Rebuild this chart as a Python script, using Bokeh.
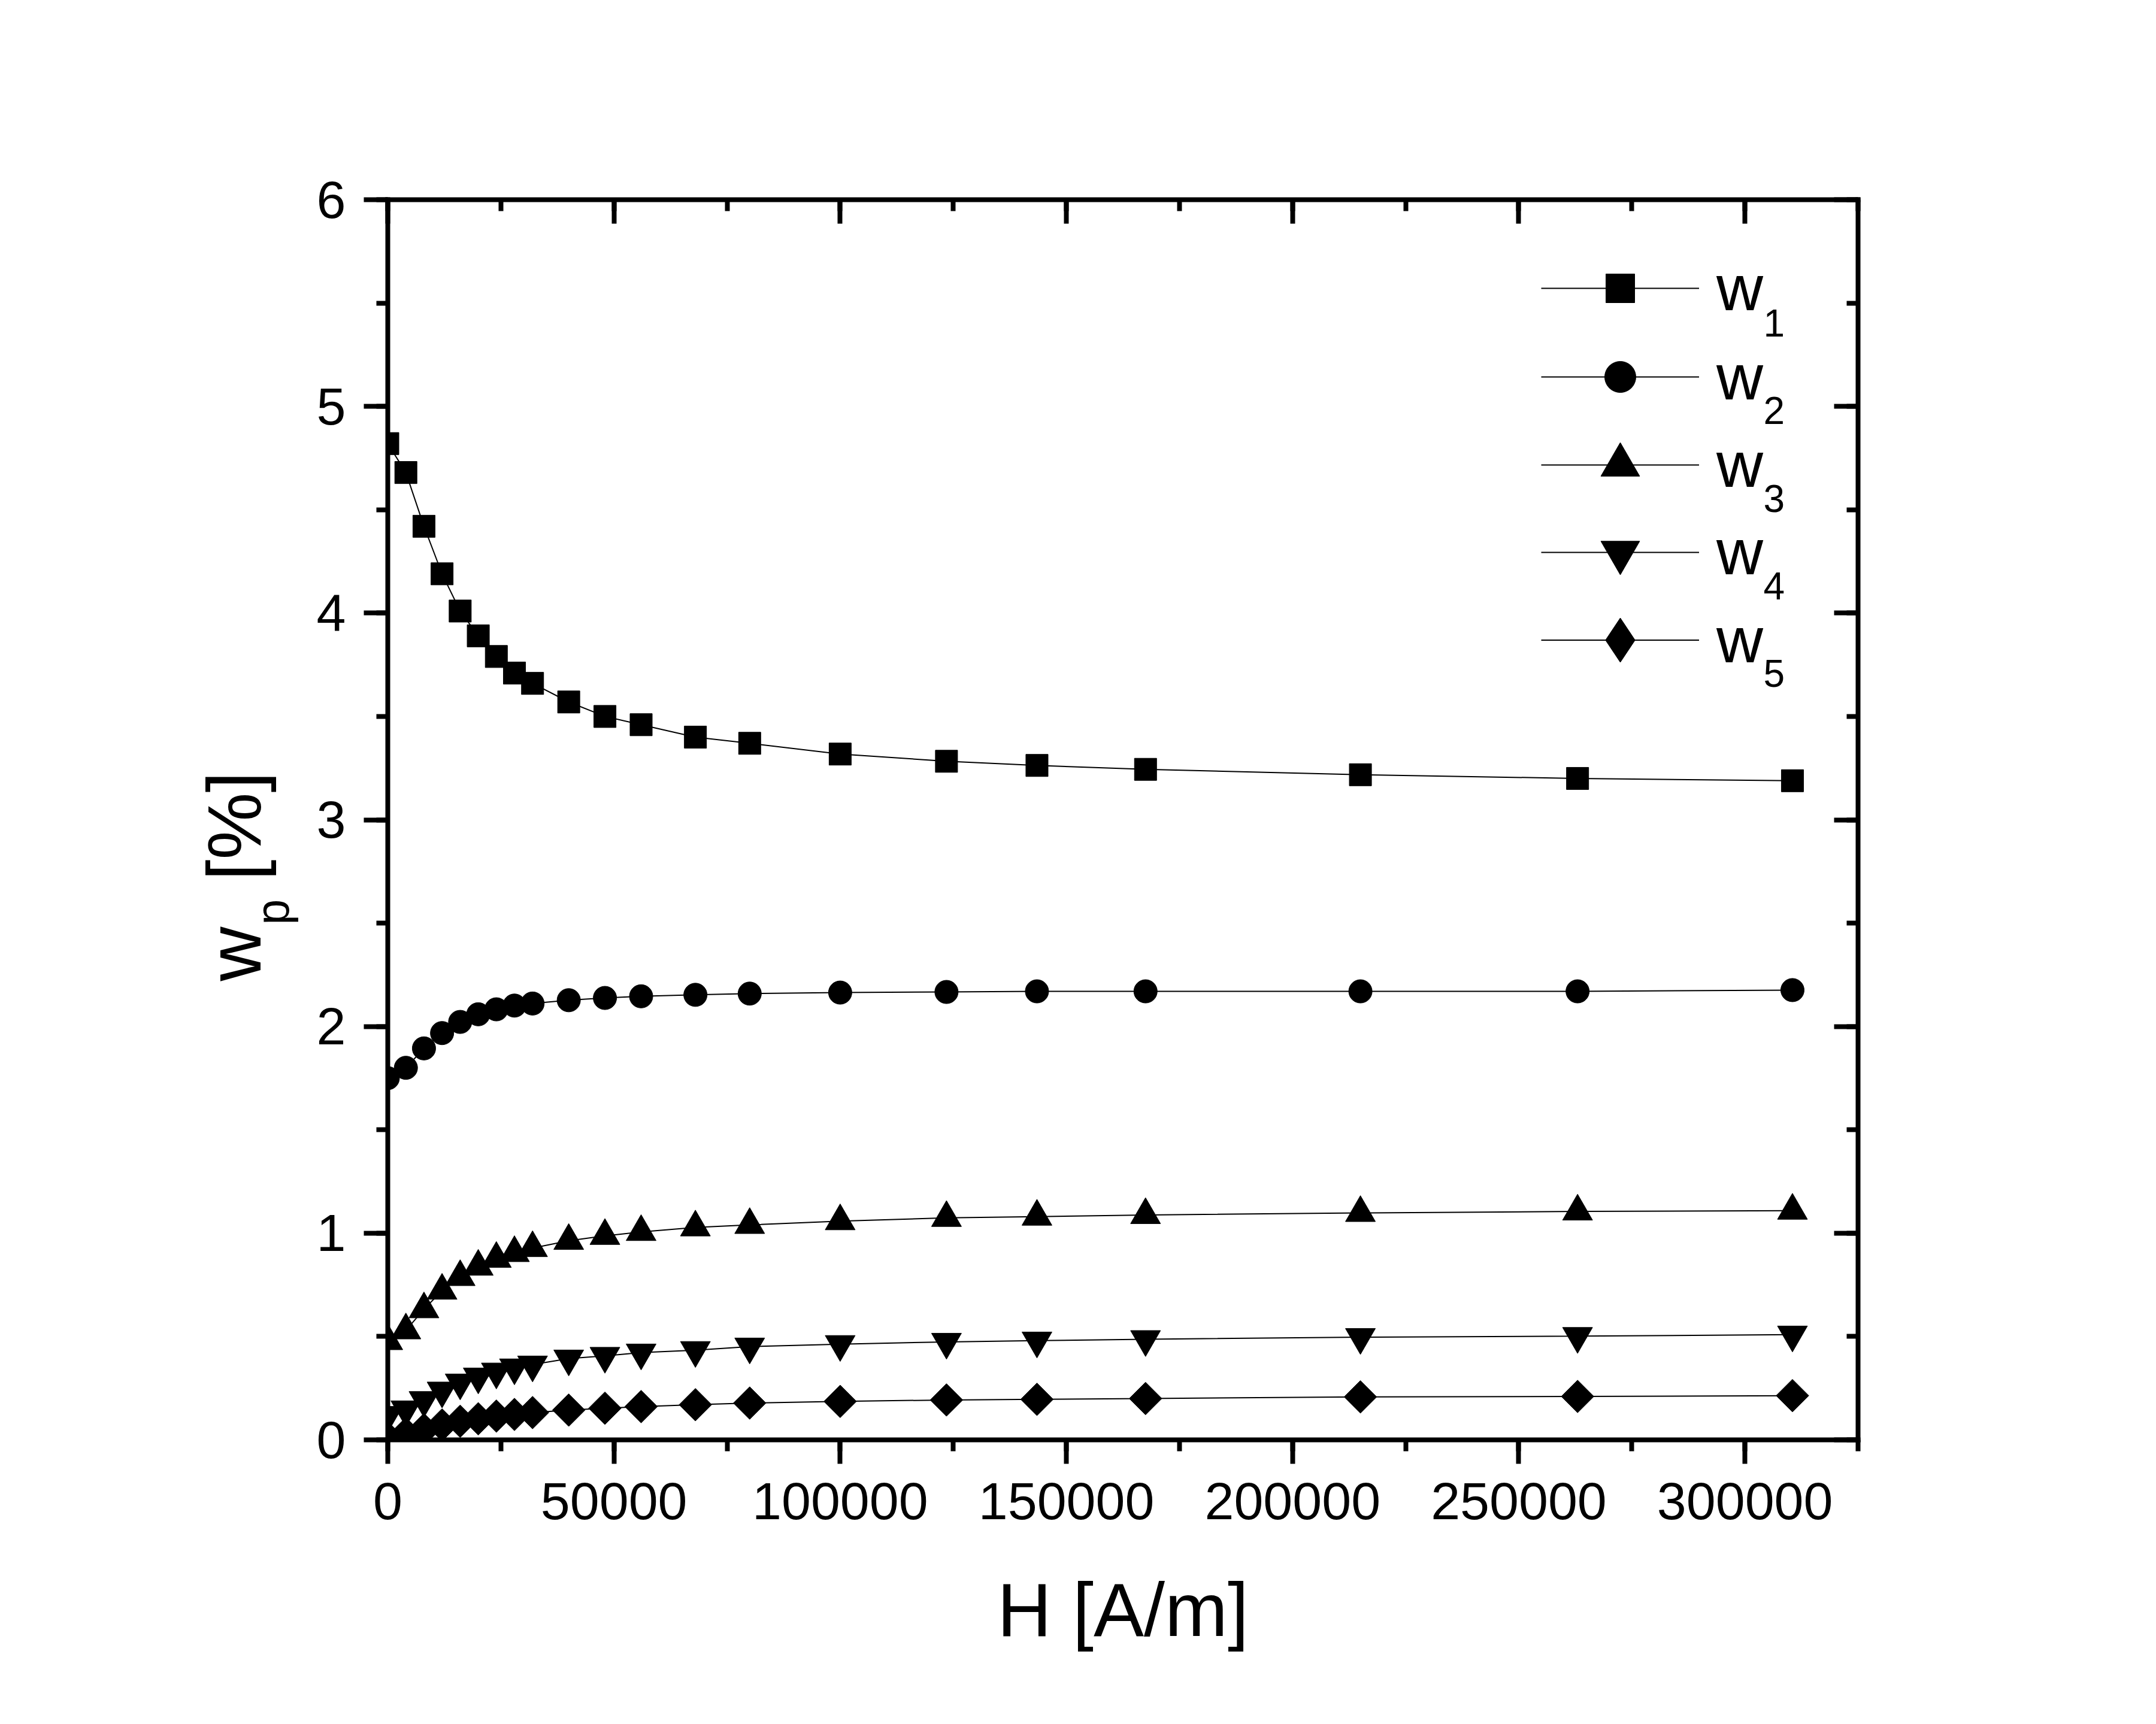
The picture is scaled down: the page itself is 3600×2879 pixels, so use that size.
import math
from bokeh.plotting import figure
from bokeh.models import (Range1d, LinearAxis, SingleIntervalTicker, Label, Legend,
                          LegendItem, ColumnDataSource, CustomJSTickFormatter,
                          BasicTickFormatter, BoxAnnotation)
from bokeh.embed import file_html
from bokeh.resources import INLINE

# ---------------- data ----------------
H = [0, 4000, 8000, 12000, 16000, 20000, 24000, 28000, 32000, 40000, 48000,
     56000, 68000, 80000, 100000, 123500, 143500, 167500, 215000, 263000, 310500]
w1 = [4.82, 4.68, 4.42, 4.19, 4.01, 3.89, 3.79, 3.71, 3.66, 3.57, 3.50,
      3.46, 3.40, 3.37, 3.318, 3.283, 3.263, 3.244, 3.218, 3.200, 3.189]
w2 = [1.75, 1.80, 1.894, 1.968, 2.022, 2.059, 2.083, 2.101, 2.111, 2.127, 2.138,
      2.146, 2.153, 2.159, 2.164, 2.167, 2.170, 2.170, 2.170, 2.170, 2.176]
w3 = [0.478, 0.530, 0.632, 0.722, 0.788, 0.838, 0.876, 0.904, 0.928, 0.963, 0.987,
      1.006, 1.028, 1.040, 1.058, 1.074, 1.080, 1.088, 1.098, 1.105, 1.109]
w4 = [0.12, 0.147, 0.192, 0.238, 0.277, 0.306, 0.330, 0.350, 0.364, 0.393, 0.406,
      0.422, 0.434, 0.451, 0.463, 0.474, 0.480, 0.487, 0.497, 0.502, 0.509]
w5 = [0.01, 0.03, 0.05, 0.072, 0.09, 0.102, 0.115, 0.123, 0.132, 0.144, 0.153,
      0.161, 0.170, 0.178, 0.186, 0.193, 0.196, 0.200, 0.208, 0.210, 0.214]

legend_names = ["w", "w", "w", "w", "w"]
legend_subs = ["1", "2", "3", "4", "5"]
x_label = "H [A/m]"
y_label_main, y_label_sub, y_label_unit = "w", "p", "[%]"
x_start, x_end, x_step = 0, 325000, 50000
y_start, y_end, y_step = 0, 6, 1

FONT = "Liberation Sans"

# ---------------- layout (page pixels) ----------------
W, HGT = 3580, 2860
BOX_L, BOX_R, BOX_T, BOX_B = 647, 3102, 333, 2404
BASE_SHIFT = 0.36  # Label anchor vs. alphabetic baseline, in em

ux = (x_end - x_start) / (BOX_R - BOX_L)
uy = (y_end - y_start) / (BOX_B - BOX_T)
xr = Range1d(x_start - BOX_L * ux, x_end + (W - BOX_R) * ux)
yr = Range1d(y_start - (HGT - BOX_B) * uy, y_end + BOX_T * uy)

p = figure(width=W, height=HGT, x_range=xr, y_range=yr,
           x_axis_location=None, y_axis_location=None,
           output_backend="svg", toolbar_location=None,
           min_border_left=0, min_border_right=0, min_border_top=0, min_border_bottom=0)
p.background_fill_color = "white"
p.border_fill_color = "white"
p.outline_line_color = None
for g in p.grid:
    g.visible = False

xt = SingleIntervalTicker(interval=x_step, num_minor_ticks=2)
yt = SingleIntervalTicker(interval=y_step, num_minor_ticks=2)
blank = CustomJSTickFormatter(code="return ''")


def make_axis(fixed, bounds, ticker, inside, formatter):
    ax = LinearAxis(fixed_location=fixed, bounds=bounds, ticker=ticker, formatter=formatter)
    ax.axis_line_color = "black"
    ax.axis_line_width = 8
    ax.axis_line_cap = "square"
    ax.major_tick_line_color = "black"
    ax.minor_tick_line_color = "black"
    ax.major_tick_line_width = 8
    ax.minor_tick_line_width = 8
    if inside:
        ax.major_tick_in, ax.major_tick_out = 40, 0
        ax.minor_tick_in, ax.minor_tick_out = 19, 0
    else:
        ax.major_tick_in, ax.major_tick_out = 0, 40
        ax.minor_tick_in, ax.minor_tick_out = 0, 19
    ax.major_label_text_font = FONT
    ax.major_label_text_font_size = "88px"
    ax.major_label_text_color = "black"
    return ax


bottom_ax = make_axis(y_start, (x_start, x_end), xt, False,
                      BasicTickFormatter(use_scientific=False))
bottom_ax.major_label_standoff = 32
left_ax = make_axis(x_start, (y_start, y_end), yt, False, BasicTickFormatter())
left_ax.major_label_standoff = 30
top_ax = make_axis(y_end, (x_start, x_end), xt, True, blank)
right_ax = make_axis(x_end, (y_start, y_end), yt, True, blank)
p.add_layout(bottom_ax, "below")
p.add_layout(left_ax, "left")
p.add_layout(top_ax, "above")
p.add_layout(right_ax, "right")

# ---------------- series ----------------
src = ColumnDataSource(dict(H=H, w1=w1, w2=w2, w3=w3, w4=w4, w5=w5))
cols = ["w1", "w2", "w3", "w4", "w5"]
lines = [p.line("H", c, source=src, line_color="black", line_width=2) for c in cols]

# small diamond hidden under the rotated squares, used as the legend glyph of w5
leg_diamond = p.scatter("H", "w5", source=src, marker="diamond", size=30,
                        fill_color="black", line_color="black")

m1 = p.scatter("H", "w1", source=src, marker="square", size=37,
               fill_color="black", line_color="black")
m2 = p.scatter("H", "w2", source=src, marker="circle", size=39,
               fill_color="black", line_color="black")
m3 = p.scatter("H", "w3", source=src, marker="triangle", size=50,
               fill_color="black", line_color="black")
m4 = p.scatter("H", "w4", source=src, marker="inverted_triangle", size=50,
               fill_color="black", line_color="black")
m5 = p.scatter("H", "w5", source=src, marker="square", size=38.5, angle=math.pi / 4,
               fill_color="black", line_color="black")

# clip the markers at the axes (as the original plot does)
clip_left = BoxAnnotation(right=x_start, fill_color="white", fill_alpha=1,
                          line_color=None, level="glyph")
clip_bottom = BoxAnnotation(top=y_start, fill_color="white", fill_alpha=1,
                            line_color=None, level="glyph")
p.renderers.append(clip_left)
p.renderers.append(clip_bottom)

# ---------------- legend: one row per Legend so each glyph gets its own size ----------------
markers_for_legend = [m1, m2, m3, m4, leg_diamond]
LEG_X, LEG_ROW0, LEG_PITCH = 2573, 483, 146.3
row_heights = [120, 130, 162, 162, 185]     # legend glyph size = 0.4 * row height
for i in range(5):
    gh = row_heights[i]
    centre = LEG_ROW0 + LEG_PITCH * i
    leg = Legend(items=[LegendItem(label=legend_names[i],
                                   renderers=[lines[i], markers_for_legend[i]])],
                 location=(LEG_X, HGT - (centre + gh / 2)),
                 glyph_width=264, glyph_height=gh, label_height=gh,
                 spacing=0, padding=0, margin=0, label_standoff=29,
                 border_line_color=None, background_fill_alpha=0,
                 label_text_font=FONT, label_text_font_size="108px",
                 label_text_color="black")
    p.add_layout(leg)


def label(x, y, text, size, angle=0.0, align="left"):
    """Place text so that its alphabetic baseline passes through (x, y) page pixels."""
    shift = BASE_SHIFT * size
    if angle:
        x -= shift
    else:
        y -= shift
    p.add_layout(Label(x=x, y=HGT - y, x_units="screen", y_units="screen",
                       text=text, text_font=FONT, text_font_size=f"{size}px",
                       angle=angle, text_align=align, text_baseline="alphabetic",
                       text_color="black"))


SUB = 64
for i, s in enumerate(legend_subs):
    label(2944, 562 + LEG_PITCH * i, s, SUB)

# ---------------- axis titles ----------------
label((BOX_L + BOX_R) / 2, 2733, x_label, 126, align="center")
label(436, 1638, y_label_main, 126, angle=math.pi / 2)
label(482, 1544, y_label_sub, 77, angle=math.pi / 2)
label(436, 1470, y_label_unit, 126, angle=math.pi / 2)

open("out.html", "w").write(file_html(p, INLINE))
